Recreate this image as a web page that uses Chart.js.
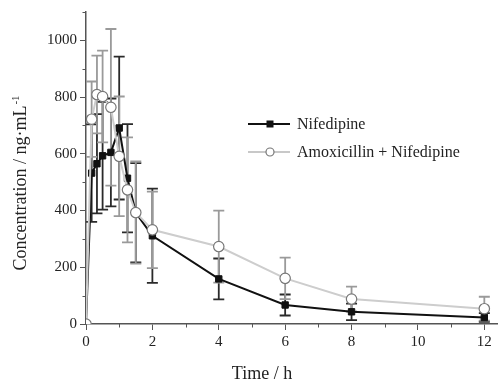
<!DOCTYPE html>
<html>
<head>
<meta charset="utf-8">
<script src="https://cdn.jsdelivr.net/npm/chart.js@4/dist/chart.umd.min.js"></script>
<style>
html,body{margin:0;padding:0;background:#fff;}
#wrap{position:relative;width:504px;height:380px;}
</style>
</head>
<body>
<div id="wrap"><canvas id="c" width="504" height="380"></canvas></div>
<script>
// ---- data ----
const times = [0, 0.17, 0.33, 0.5, 0.75, 1, 1.25, 1.5, 2, 4, 6, 8, 12];
const nifedipine = [0, 532, 565, 593, 605, 691, 514, 392, 311, 159, 67, 43, 23];
const nifedipineSD = [0, 172, 175, 190, 190, 252, 191, 175, 166, 72, 37, 29, 15];
const amoxNif = [0, 722, 809, 802, 764, 591, 473, 393, 332, 273, 161, 88, 54];
const amoxNifSD = [0, 133, 137, 162, 276, 211, 185, 180, 135, 127, 73, 44, 42];
const xTicks = [0, 2, 4, 6, 8, 10, 12];
const xMinorTicks = [1, 3, 5, 7, 9, 11];
const yTicks = [0, 200, 400, 600, 800, 1000];
const yMinorTicks = [100, 300, 500, 700, 900, 1100];
const seriesNames = ['Nifedipine', 'Amoxicillin + Nifedipine'];
const xTitle = 'Time / h';
const yTitle = 'Concentration / ng·mL';
const yTitleSup = '-1';

const FONT = "'Liberation Serif', 'Times New Roman', serif";
const AXIS_COLOR = '#555';

const toPts = (arr) => times.map((t, i) => ({x: t, y: arr[i]}));

const errorBars = {
  id: 'errorBars',
  beforeDatasetsDraw(chart) {
    const {ctx, scales: {x, y}} = chart;
    const sets = [
      {vals: nifedipine, sd: nifedipineSD, color: '#2a2a2a'},
      {vals: amoxNif, sd: amoxNifSD, color: '#9a9a9a'}
    ];
    ctx.save();
    ctx.lineWidth = 1.8;
    sets.forEach(s => {
      ctx.strokeStyle = s.color;
      times.forEach((t, i) => {
        if (!s.sd[i]) return;
        const px = x.getPixelForValue(t);
        const top = y.getPixelForValue(s.vals[i] + s.sd[i]);
        const bot = y.getPixelForValue(Math.max(0, s.vals[i] - s.sd[i]));
        ctx.beginPath();
        ctx.moveTo(px, top); ctx.lineTo(px, bot);
        ctx.moveTo(px - 5.5, top); ctx.lineTo(px + 5.5, top);
        ctx.moveTo(px - 5.5, bot); ctx.lineTo(px + 5.5, bot);
        ctx.stroke();
      });
    });
    ctx.restore();
  },
  afterDraw(chart) {
    const {ctx, scales: {x, y}} = chart;
    ctx.save();
    // minor ticks
    ctx.strokeStyle = AXIS_COLOR;
    ctx.lineWidth = 1;
    ctx.beginPath();
    xMinorTicks.forEach(v => {
      const px = Math.round(x.getPixelForValue(v)) + 0.5;
      ctx.moveTo(px, y.bottom); ctx.lineTo(px, y.bottom + 3.5);
    });
    yMinorTicks.forEach(v => {
      const py = Math.round(y.getPixelForValue(v)) + 0.5;
      ctx.moveTo(x.left, py); ctx.lineTo(x.left - 3.5, py);
    });
    ctx.stroke();

    // axis titles
    ctx.fillStyle = '#222';
    ctx.font = '18px ' + FONT;
    ctx.textBaseline = 'alphabetic';
    ctx.textAlign = 'center';
    ctx.fillText(xTitle, 262, 379);

    ctx.save();
    ctx.translate(26, 183);
    ctx.rotate(-Math.PI / 2);
    ctx.font = '18px ' + FONT;
    const w1 = ctx.measureText(yTitle).width;
    ctx.font = '11px ' + FONT;
    const w2 = ctx.measureText(yTitleSup).width;
    const start = -(w1 + w2 + 1) / 2;
    ctx.textAlign = 'left';
    ctx.font = '18px ' + FONT;
    ctx.fillText(yTitle, start, 0);
    ctx.font = '11px ' + FONT;
    ctx.fillText(yTitleSup, start + w1 + 1, -7);
    ctx.restore();

    // legend
    const lx0 = 248, lx1 = 290, mx = 270, tx = 297;
    const rows = [124, 152];
    ctx.lineWidth = 2;
    ctx.strokeStyle = '#111';
    ctx.beginPath(); ctx.moveTo(lx0, rows[0]); ctx.lineTo(lx1, rows[0]); ctx.stroke();
    ctx.fillStyle = '#111';
    ctx.fillRect(mx - 3.5, rows[0] - 3.5, 7, 7);
    ctx.strokeStyle = '#c8c8c8';
    ctx.beginPath(); ctx.moveTo(lx0, rows[1]); ctx.lineTo(lx1, rows[1]); ctx.stroke();
    ctx.fillStyle = '#fff';
    ctx.strokeStyle = '#777';
    ctx.lineWidth = 1.2;
    ctx.beginPath(); ctx.arc(mx, rows[1], 4, 0, Math.PI * 2); ctx.fill(); ctx.stroke();
    ctx.fillStyle = '#222';
    ctx.font = '16px ' + FONT;
    ctx.textAlign = 'left';
    ctx.textBaseline = 'middle';
    ctx.fillText(seriesNames[0], tx, rows[0] + 1);
    ctx.fillText(seriesNames[1], tx, rows[1] + 1);
    ctx.restore();
  }
};

new Chart(document.getElementById('c'), {
  type: 'line',
  data: {
    datasets: [
      {
        label: seriesNames[0],
        data: toPts(nifedipine),
        borderColor: '#111',
        backgroundColor: '#111',
        borderWidth: 2,
        pointStyle: 'rect',
        pointRadius: 4.5,
        pointBorderWidth: 1,
        pointBackgroundColor: '#111',
        pointBorderColor: '#111',
        tension: 0,
        order: 1
      },
      {
        label: seriesNames[1],
        data: toPts(amoxNif),
        borderColor: '#cdcdcd',
        backgroundColor: '#fff',
        borderWidth: 2,
        pointStyle: 'circle',
        pointRadius: 5.2,
        pointBorderWidth: 1.2,
        pointBackgroundColor: '#fff',
        pointBorderColor: '#777',
        tension: 0,
        order: 0
      }
    ]
  },
  options: {
    responsive: false,
    animation: false,
    events: [],
    layout: {padding: {top: 12, right: 1, left: 0, bottom: 0}},
    plugins: {legend: {display: false}, tooltip: {enabled: false}},
    scales: {
      x: {
        type: 'linear',
        min: 0,
        max: 12.4,
        afterBuildTicks: (s) => { s.ticks = xTicks.map(v => ({value: v})); },
        afterFit: (s) => { s.height = 56; },
        grid: {display: true, drawOnChartArea: false, drawTicks: true, tickLength: 6, color: AXIS_COLOR, lineWidth: 1},
        border: {display: true, color: AXIS_COLOR, width: 1.5},
        ticks: {font: {family: FONT, size: 15}, color: '#222', padding: 3, maxRotation: 0, autoSkip: false,
                callback: (v) => String(v)}
      },
      y: {
        type: 'linear',
        min: 0,
        max: 1100,
        afterBuildTicks: (s) => { s.ticks = yTicks.map(v => ({value: v})); },
        afterFit: (s) => { s.width = 86; },
        grid: {display: true, drawOnChartArea: false, drawTicks: true, tickLength: 6, color: AXIS_COLOR, lineWidth: 1},
        border: {display: true, color: AXIS_COLOR, width: 1.5},
        ticks: {font: {family: FONT, size: 15}, color: '#222', padding: 3, autoSkip: false,
                callback: (v) => String(v)}
      }
    }
  },
  plugins: [errorBars]
});
</script>
</body>
</html>
